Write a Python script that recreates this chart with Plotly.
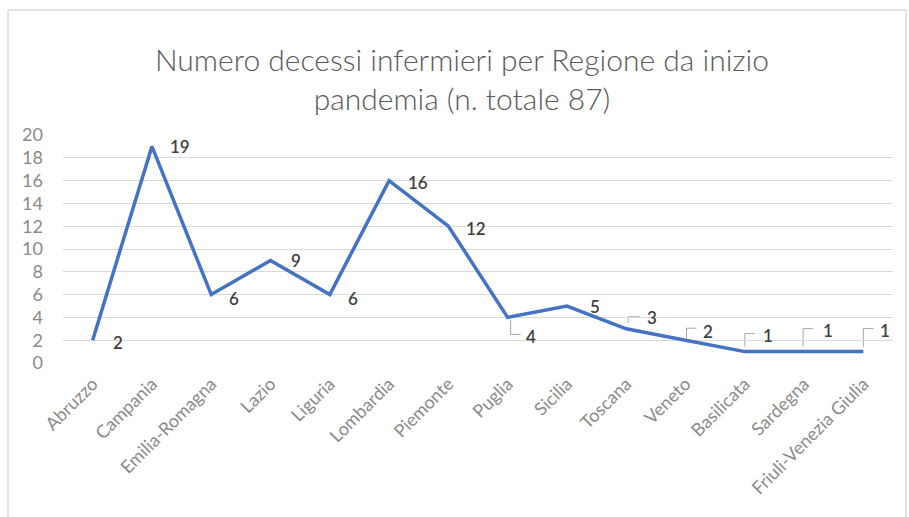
import plotly.graph_objects as go

# Deaths among nurses by region since the start of the pandemic
regioni = ["Abruzzo", "Campania", "Emilia-Romagna", "Lazio", "Liguria",
           "Lombardia", "Piemonte", "Puglia", "Sicilia", "Toscana",
           "Veneto", "Basilicata", "Sardegna", "Friuli-Venezia Giulia"]
decessi = [2, 19, 6, 9, 6, 16, 12, 4, 5, 3, 2, 1, 1, 1]
y_ticks = [0, 2, 4, 6, 8, 10, 12, 14, 16, 18, 20]

TITLE = "Numero decessi infermieri per Regione da inizio<br>pandemia (n. totale 87)"

FONT = "Lato"
LINE_BLUE = "#4472C4"
GRID = "#D9D9D9"
TICK_GREY = "#8A8A8A"
LABEL_GREY = "#404040"

# pixel offsets (dx right, dy up) of each data label from its point
label_offsets = [(25, -2), (28, 0), (23, -4), (25, 0), (23, -4), (29, -2),
                 (28, -2), (23, -19), (28, 0), (26, 11), (22, 9), (23, 16),
                 (24, 21), (22, 21)]
# elbow leader lines (pixel paths relative to the point) for crowded labels
leader_paths = {
    7: "M3,-3 L3,-17 L13,-17",
    9: "M2,6 L2,12 L14,12",
    10: "M1,2 L1,12 L11,12",
    11: "M0,5 L0,18 L10,18",
    12: "M-1,5 L-1,23 L9,23",
    13: "M0,5 L0,23 L10,23",
}

fig = go.Figure()
fig.add_trace(go.Scatter(
    x=regioni, y=decessi, mode="lines",
    line=dict(color=LINE_BLUE, width=3.5),
    hoverinfo="x+y", showlegend=False,
))

annotations = []
for i, (reg, val) in enumerate(zip(regioni, decessi)):
    dx, dy = label_offsets[i]
    annotations.append(dict(
        x=i, y=val, xref="x", yref="y", text=str(val), showarrow=False,
        xshift=dx, yshift=dy, xanchor="center", yanchor="middle",
        font=dict(family=FONT, size=17, color=LABEL_GREY, weight=600),
    ))

shapes = []
for i, path in leader_paths.items():
    shapes.append(dict(
        type="path", xref="x", yref="y", xsizemode="pixel", ysizemode="pixel",
        xanchor=i, yanchor=decessi[i], path=path,
        line=dict(color="#A6A6A6", width=1), layer="below",
    ))

# light chart-area frame (top, left, right edges)
L, R, T, B = 63, 893, 135, 363
def px_x(p):
    return (p - L) / (R - L)
def px_y(p):
    return (B - p) / (B - T)
frame = dict(xref="paper", yref="paper", type="line",
             line=dict(color="#E3E3E3", width=2))
shapes.append(dict(frame, x0=px_x(8), x1=px_x(906), y0=px_y(10), y1=px_y(10)))
shapes.append(dict(frame, x0=px_x(8), x1=px_x(8), y0=px_y(10), y1=px_y(540)))
shapes.append(dict(frame, x0=px_x(906), x1=px_x(906), y0=px_y(10), y1=px_y(540)))

fig.update_layout(
    width=909, height=517,
    margin=dict(l=L, r=909 - R, t=T, b=517 - B, autoexpand=False),
    paper_bgcolor="white", plot_bgcolor="white",
    title=dict(text=TITLE, x=462 / 909, xanchor="center",
               y=1 - 71 / 517, yanchor="middle", yref="container",
               font=dict(family=FONT, size=30, color="#595959", weight=300)),
    xaxis=dict(type="category", range=[-0.5, len(regioni) - 0.5],
               showgrid=False, showline=False, zeroline=False,
               tickangle=-45, ticks="", ticklabelstandoff=6,
               tickfont=dict(family=FONT, size=18, color=TICK_GREY),
               fixedrange=True),
    yaxis=dict(range=[0, 20], tickvals=y_ticks, showgrid=True,
               gridcolor=GRID, gridwidth=1, zeroline=False, showline=False,
               ticks="", ticklabelstandoff=19,
               tickfont=dict(family=FONT, size=18, color=TICK_GREY),
               fixedrange=True),
    annotations=annotations, shapes=shapes,
    font=dict(family=FONT),
)

fig.write_html("out.html")
